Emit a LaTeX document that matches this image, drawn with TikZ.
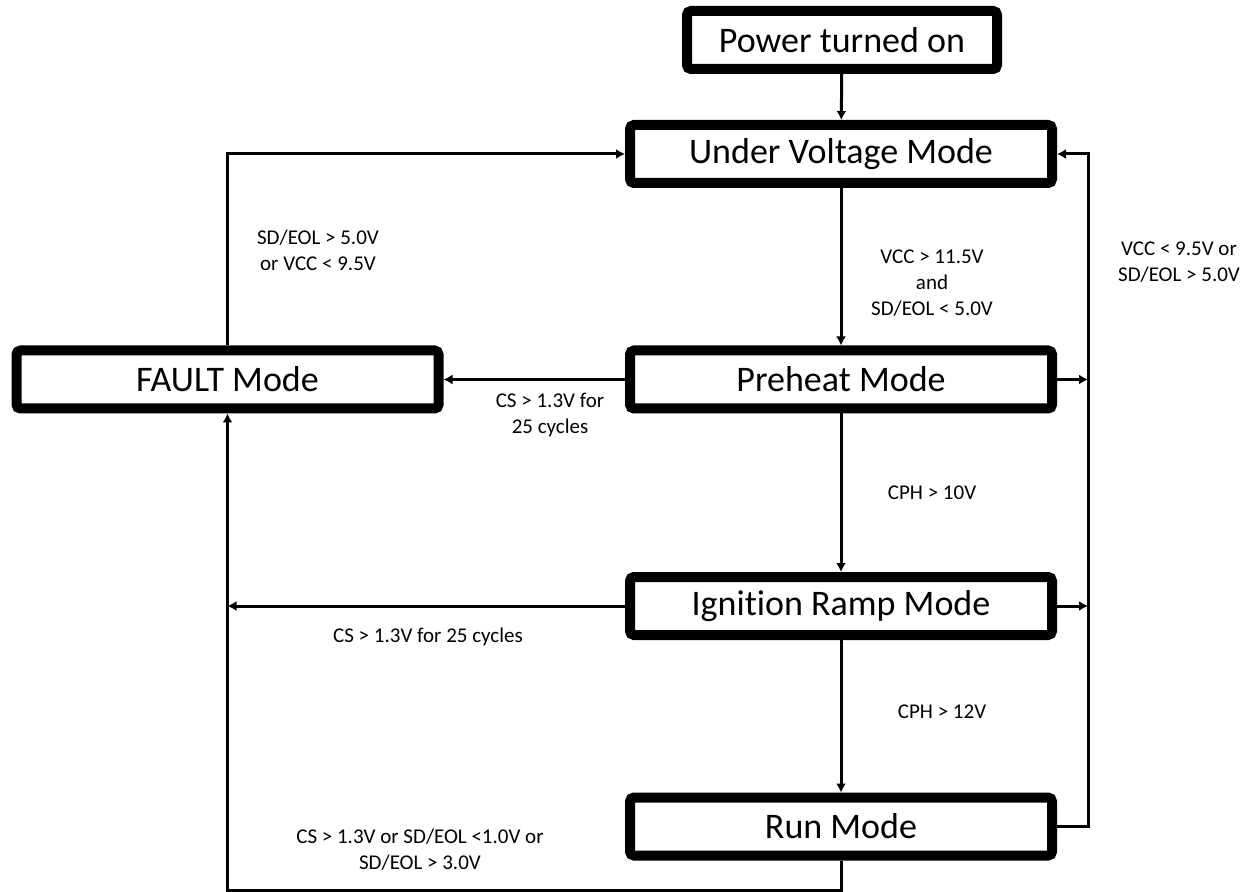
\documentclass[tikz,border=0pt]{standalone}
\usepackage{fontspec}
\setmainfont{Carlito}[Ligatures=CommonOff]
\usetikzlibrary{arrows.meta}

\begin{document}
\begin{tikzpicture}[x=0.5pt,y=-0.5pt,
  modebox/.style={draw,line width=5pt,rounded corners=2pt,minimum width=211pt,
    minimum height=29pt,inner sep=0pt,font=\fontsize{18}{21}\selectfont},
  cond/.style={align=center,inner sep=0pt,font=\fontsize{10.5}{13}\selectfont},
  flow/.style={line width=1.5pt,-{Latex[length=4.5pt,width=5pt]}}]
\useasboundingbox (0,0) rectangle (1256,892);

% states
\node[modebox,minimum width=155pt] (power) at (842,40) {Power turned on};
\node[modebox] (uvm) at (841,154) {Under Voltage Mode};
\node[modebox] (pre) at (841,379.5) {Preheat Mode};
\node[modebox] (ign) at (841,606) {Ignition Ramp Mode};
\node[modebox] (run) at (841,826.5) {Run Mode};
\node[modebox] (fault) at (227.5,379.5) {FAULT Mode};

% helper points
\coordinate (bustop) at (1088,154);
\coordinate (runlow) at (841,890);

% main chain
\draw[flow] (power) -- (uvm);
\draw[flow] (uvm) -- (pre);
\draw[flow] (pre) -- (ign);
\draw[flow] (ign) -- (run);

% back to under voltage
\draw[flow] (run.east) -| (bustop) -- (uvm.east);
\draw[flow] (pre.east) -- (pre.east -| bustop);
\draw[flow] (ign.east) -- (ign.east -| bustop);

% fault paths
\draw[flow] (fault.north) |- (uvm.west);
\draw[flow] (pre.west) -- (fault.east);
\draw[flow] (ign.west) -- (ign.west -| fault.south);
\draw[flow] (run.south) -- (runlow) -| (fault.south);

% conditions
\node[cond] (lbluv) at (932,283) {VCC > 11.5V\\and\\SD/EOL < 5.0V};
\node[cond] (lblcph1) at (932,493) {CPH > 10V};
\node[cond] (lblcph2) at (942,712) {CPH > 12V};
\node[cond] (lblbus) at (1179,262) {VCC < 9.5V or\\SD/EOL > 5.0V};
\node[cond] (lblfup) at (318,250) {SD/EOL > 5.0V\\or VCC < 9.5V};
\node[cond] (lblpf) at (550,415) {CS > 1.3V for\\25 cycles};
\node[cond] (lblif) at (428,637) {CS > 1.3V for 25 cycles};
\node[cond] (lblrf) at (420,850) {CS > 1.3V or SD/EOL <1.0V or\\SD/EOL > 3.0V};

\end{tikzpicture}
\end{document}
